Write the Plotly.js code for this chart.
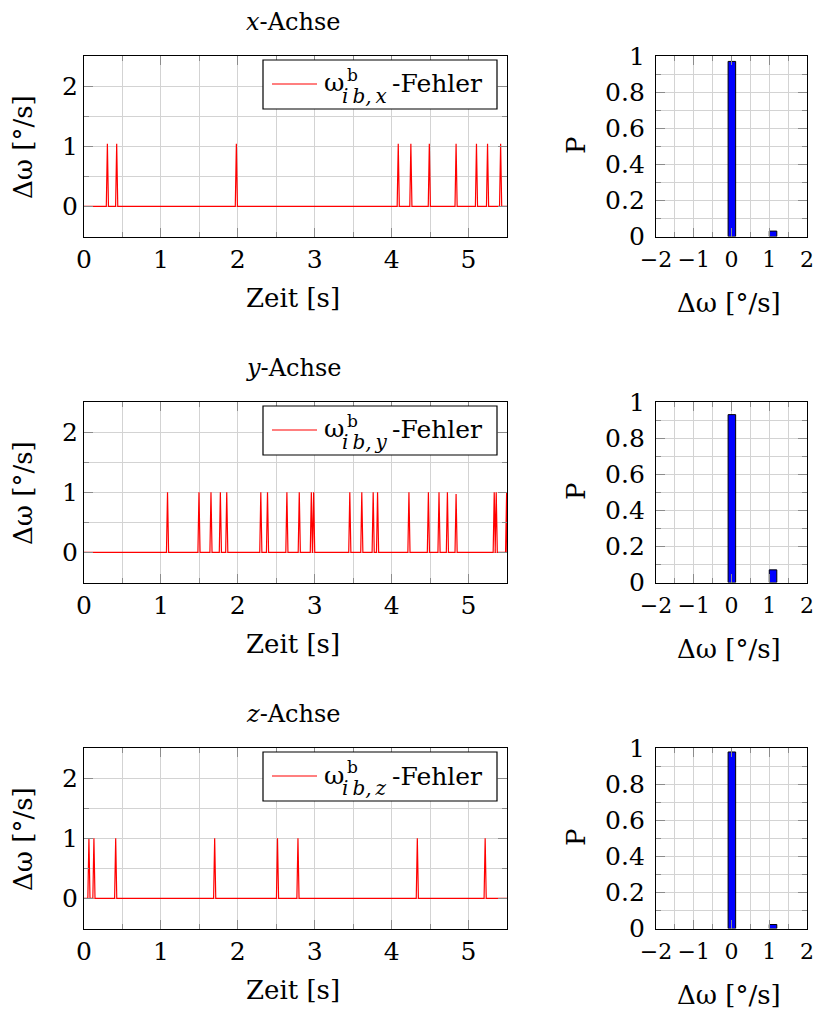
<!DOCTYPE html>
<html>
<head>
<meta charset="utf-8">
<script src="https://cdn.plot.ly/plotly-3.0.1.min.js"></script>
<style>html,body{margin:0;padding:0;background:#fff}</style>
</head>
<body>
<div id="chart" style="width:815px;height:1010px"></div>
<script>
// ---------- data ----------
const panelTitles = ["<i>x</i>-Achse", "<i>y</i>-Achse", "<i>z</i>-Achse"];
const axisSubs = ["x", "y", "z"];

// spike times [s] and peak heights [°/s] of the error signals
const spikeTimesX = [0.304, 0.425, 1.981, 4.086, 4.250, 4.490, 4.838, 5.103, 5.247, 5.417];
const spikeHeightsX = [1.04, 1.04, 1.04, 1.04, 1.04, 1.04, 1.04, 1.04, 1.04, 1.04];

const spikeTimesY = [1.086, 1.495, 1.651, 1.773, 1.856, 2.299, 2.386, 2.638, 2.799, 2.956, 2.986,
                     3.456, 3.612, 3.760, 3.817, 4.225, 4.478, 4.616, 4.725, 4.838, 5.334, 5.360, 5.495];
const spikeHeightsY = [1.0, 1.0, 1.0, 1.0, 1.0, 1.0, 1.0, 1.0, 1.0, 1.0, 1.0,
                       1.0, 1.0, 1.0, 1.0, 1.0, 1.0, 1.0, 1.0, 0.97, 1.0, 1.0, 1.0];

const spikeTimesZ = [0.064, 0.129, 0.412, 1.699, 2.516, 2.782, 4.334, 5.216];
const spikeHeightsZ = [1.0, 1.0, 1.0, 1.0, 1.0, 1.0, 1.0, 1.0];

const tEnd = 5.5;

// histograms: bin centres and probabilities
const histBins = [0.01, 1.1];
const histX = [0.97, 0.03];
const histY = [0.93, 0.07];
const histZ = [0.978, 0.022];

const timeTicks = [0, 1, 2, 3, 4, 5];
const errTicks = [0, 1, 2];
const binTicks = [-2, -1, 0, 1, 2];
const probTicks = [0, 0.2, 0.4, 0.6, 0.8, 1];

// ---------- build ----------
const W = 815, H = 1010;
const FONT = "DejaVu Serif";
const px = x => x / W;
const py = y => 1 - y / H;

function pulseSeries(times, heights) {
  const hw = 0.014;
  const x = [0], y = [0];
  times.forEach((t, i) => {
    x.push(t - hw, t, Math.min(t + hw, tEnd));
    y.push(0, heights[i], 0);
  });
  x.push(tEnd); y.push(0);
  return {x, y};
}

const series = [
  pulseSeries(spikeTimesX, spikeHeightsX),
  pulseSeries(spikeTimesY, spikeHeightsY),
  pulseSeries(spikeTimesZ, spikeHeightsZ)
];
const hists = [histX, histY, histZ];

const panelTop = [56, 402, 748];
const panelH = 180.5;
const L0 = 84, L1 = 507, R0 = 656, R1 = 807;

const traces = [];
const layout = {
  width: W, height: H,
  margin: {l: 0, r: 0, t: 0, b: 0},
  paper_bgcolor: "#fff", plot_bgcolor: "#fff",
  showlegend: false,
  font: {family: FONT, color: "#000", size: 25},
  shapes: [], annotations: []
};

const gridC = "#d3d3d3", tickC = "#8c8c8c";

function axisBase(extra) {
  return Object.assign({
    showline: true, linecolor: "#000", linewidth: 1.2, mirror: "ticks",
    ticks: "inside", ticklen: 9, tickcolor: tickC, tickwidth: 1,
    showgrid: true, gridcolor: gridC, gridwidth: 1,
    zeroline: false, fixedrange: true,
    tickfont: {family: FONT, size: 25, color: "#000"}
  }, extra);
}

for (let p = 0; p < 3; p++) {
  const top = panelTop[p], bot = top + panelH;
  const ydom = [py(bot), py(top)];
  const li = 2 * p + 1, ri = 2 * p + 2;
  const lx = "xaxis" + li, ly = "yaxis" + li, rx = "xaxis" + ri, ry = "yaxis" + ri;

  traces.push({
    type: "scatter", mode: "lines",
    x: series[p].x, y: series[p].y,
    xaxis: "x" + li, yaxis: "y" + li,
    line: {color: "#ff0000", width: 1.2}
  });
  traces.push({
    type: "bar", x: histBins, y: hists[p], width: 0.2,
    xaxis: "x" + ri, yaxis: "y" + ri,
    marker: {color: "#0000ff", line: {color: "#000", width: 1}}
  });

  layout[lx] = axisBase({
    domain: [px(L0), px(L1)], range: [0, tEnd], anchor: "y" + li,
    tickmode: "array", tickvals: timeTicks, ticktext: timeTicks.map(String),
    minor: {dtick: 0.5, tick0: 0, showgrid: true, gridcolor: gridC, ticks: "inside", ticklen: 5, tickcolor: tickC}
  });
  layout[ly] = axisBase({
    domain: ydom, range: [-0.5, 2.5], anchor: "x" + li,
    tickmode: "array", tickvals: errTicks, ticktext: errTicks.map(String),
    minor: {dtick: 0.5, tick0: 0, showgrid: true, gridcolor: gridC, ticks: "inside", ticklen: 5, tickcolor: tickC}
  });
  layout[rx] = axisBase({
    domain: [px(R0), px(R1)], range: [-2, 2], anchor: "y" + ri,
    tickmode: "array", tickvals: binTicks, ticktext: binTicks.map(v => v < 0 ? "\u2212" + Math.abs(v) : String(v)),
    tickfont: {family: FONT, size: 22, color: "#000"},
    ticklabelstandoff: 3,
    minor: {dtick: 0.5, tick0: 0, showgrid: true, gridcolor: gridC, ticks: "inside", ticklen: 5, tickcolor: tickC}
  });
  layout[ry] = axisBase({
    domain: ydom, range: [0, 1], anchor: "x" + ri,
    tickmode: "array", tickvals: probTicks, ticktext: probTicks.map(String),
    ticklabelstandoff: 5,
    minor: {dtick: 0.1, tick0: 0, showgrid: true, gridcolor: gridC, ticks: "inside", ticklen: 5, tickcolor: tickC}
  });

  const ann = layout.annotations;
  const base = {showarrow: false, xref: "paper", yref: "paper", font: {family: FONT, size: 26, color: "#000"}};
  // panel title
  ann.push(Object.assign({}, base, {text: panelTitles[p], x: px(293), y: py(top - 34), xanchor: "center", yanchor: "middle", font: {family: FONT, size: 24, color: "#000"}}));
  // axis titles
  ann.push(Object.assign({}, base, {text: "Zeit [s]", x: px(293), y: py(bot + 61), xanchor: "center", yanchor: "middle"}));
  ann.push(Object.assign({}, base, {text: "\u0394\u03c9 [\u00b0/s]", x: px(23), y: py(top + 91), xanchor: "center", yanchor: "middle", textangle: -90}));
  ann.push(Object.assign({}, base, {text: "P", x: px(576), y: py(top + 89), xanchor: "center", yanchor: "middle", textangle: -90}));
  ann.push(Object.assign({}, base, {text: "\u0394\u03c9 [\u00b0/s]", x: px(729), y: py(bot + 66), xanchor: "center", yanchor: "middle"}));

  // legend box
  layout.shapes.push({type: "rect", xref: "paper", yref: "paper",
    x0: px(263), x1: px(497), y0: py(top + 4), y1: py(top + 53),
    line: {color: "#000", width: 1.2}, fillcolor: "#fff", layer: "above"});
  layout.shapes.push({type: "line", xref: "paper", yref: "paper",
    x0: px(272), x1: px(317), y0: py(top + 28), y1: py(top + 28),
    line: {color: "#ff0000", width: 1.2}, layer: "above"});
  ann.push(Object.assign({}, base, {text: "\u03c9", x: px(322), y: py(top + 27), xanchor: "left", yanchor: "middle", font: {family: FONT, size: 25, color: "#000"}}));
  ann.push(Object.assign({}, base, {text: "b", x: px(345), y: py(top + 19), xanchor: "left", yanchor: "middle", font: {family: FONT, size: 17, color: "#000"}}));
  ann.push(Object.assign({}, base, {text: "<i>i\u2009b,\u2009" + axisSubs[p] + "</i>", x: px(340), y: py(top + 40), xanchor: "left", yanchor: "middle", font: {family: FONT, size: 20, color: "#000"}}));
  ann.push(Object.assign({}, base, {text: "-Fehler", x: px(390), y: py(top + 28), xanchor: "left", yanchor: "middle", font: {family: FONT, size: 25, color: "#000"}}));
}

Plotly.newPlot("chart", traces, layout, {displayModeBar: false, staticPlot: true});
</script>
</body>
</html>
